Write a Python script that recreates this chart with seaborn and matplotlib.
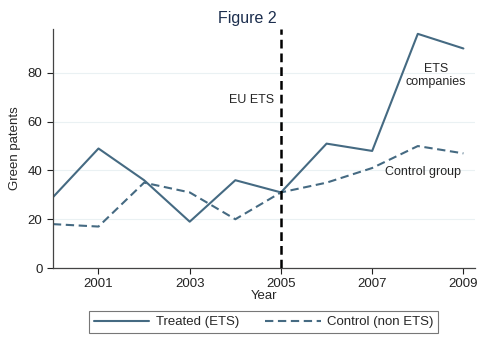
import matplotlib
matplotlib.use("Agg")
import matplotlib.pyplot as plt
import seaborn as sns
import pandas as pd
from matplotlib.lines import Line2D

years = [2000, 2001, 2002, 2003, 2004, 2005, 2006, 2007, 2008, 2009]
treated = [29, 49, 36, 19, 36, 31, 51, 48, 96, 90]
control = [18, 17, 35, 31, 20, 31, 35, 41, 50, 47]
series_names = ["Treated (ETS)", "Control (non ETS)"]
x_ticks = [2001, 2003, 2005, 2007, 2009]
y_ticks = [0, 20, 40, 60, 80]

sns.set_theme(style="white")
plt.rcParams['font.family'] = ['Liberation Sans', 'DejaVu Sans']

df = pd.DataFrame({
    "Year": years * 2,
    "value": treated + control,
    "group": [series_names[0]] * len(years) + [series_names[1]] * len(years),
})

line_color = "#456a82"
fig = plt.figure(figsize=(4.85, 3.49), dpi=100)
ax = fig.add_axes([0.109, 0.232, 0.870, 0.685])

for yv in y_ticks:
    ax.axhline(yv, color="#eaf1f3", lw=0.8, zorder=0)

sns.lineplot(data=df, x="Year", y="value", hue="group", style="group",
             palette=[line_color, line_color],
             dashes=[(None, None), (4, 2.2)], lw=1.5, ax=ax, legend=False)

ax.axvline(2005, color="black", lw=1.8, ls=(0, (3.5, 2)), zorder=5)

ax.set_xlim(2000, 2009.25)
ax.set_ylim(0, 98)
ax.set_xticks(x_ticks)
ax.set_yticks(y_ticks)
ax.tick_params(axis="both", labelsize=9.5, colors="#222222", length=4, width=0.8,
               direction="out", bottom=True, left=True)
for s in ["top", "right"]:
    ax.spines[s].set_visible(False)
for s in ["left", "bottom"]:
    ax.spines[s].set_color("#444444")
    ax.spines[s].set_linewidth(0.9)
ax.set_xlabel("Year", fontsize=9.5, labelpad=0)
ax.set_ylabel("Green patents", fontsize=9.5, labelpad=5)

ax.text(2004.85, 69, "EU ETS", fontsize=9, ha="right", va="center")
ax.text(2008.4, 79, "ETS\ncompanies", fontsize=9, ha="center", va="center", linespacing=1.1)
ax.text(2008.12, 39.3, "Control group", fontsize=9, ha="center", va="center")

fig.text(0.51, 0.948, "Figure 2", fontsize=11.5, color="#1c2e4e", ha="center", va="center")

handles = [Line2D([0], [0], color=line_color, lw=1.5),
           Line2D([0], [0], color=line_color, lw=1.5, ls=(0, (4, 2.2)))]
leg = fig.legend(handles, series_names, loc="center", bbox_to_anchor=(0.544, 0.077),
                 ncol=2, fontsize=9.5, frameon=True, fancybox=False, handlelength=4.2,
                 columnspacing=2.0, borderpad=0.35, handletextpad=0.5)
leg.get_frame().set_edgecolor("#555555")
leg.get_frame().set_linewidth(0.8)

fig.savefig("out.png", dpi=100)
